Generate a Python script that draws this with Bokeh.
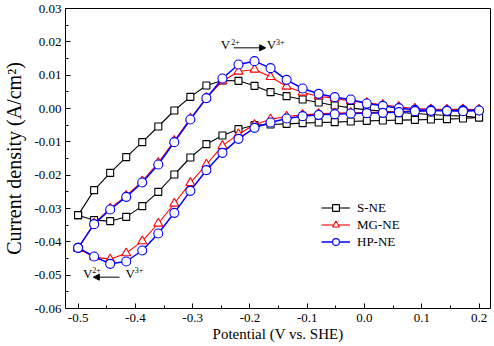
from bokeh.plotting import figure
from bokeh.models import (Range1d, FixedTicker, Label, Arrow, NormalHead,
                          Legend, LegendItem, ColumnDataSource)
from bokeh.embed import file_html
from bokeh.resources import INLINE

# Potential grid (V vs. SHE), shared by the forward and reverse sweeps
potential = [-0.500, -0.472, -0.444, -0.416, -0.388, -0.360, -0.332, -0.304,
             -0.276, -0.248, -0.220, -0.192, -0.164, -0.136, -0.108, -0.080,
             -0.052, -0.024, 0.004, 0.032, 0.060, 0.088, 0.116, 0.144,
             0.172, 0.200]

# Current density (A/cm2), anodic sweep (negative -> positive potential)
s_ne_anodic = [-0.0320, -0.0245, -0.0193, -0.0146, -0.0101, -0.0054, -0.0006,
               0.0035, 0.0069, 0.0084, 0.0083, 0.0068, 0.0049, 0.0037, 0.0027,
               0.0018, 0.0009, 0.0002, -0.0004, -0.0008, -0.0012, -0.0015,
               -0.0018, -0.0021, -0.0023, -0.0027]
mg_ne_anodic = [-0.0420, -0.0345, -0.0300, -0.0262, -0.0218, -0.0163, -0.0097,
                -0.0030, 0.0032, 0.0082, 0.0111, 0.0117, 0.0095, 0.0066,
                0.0048, 0.0037, 0.0030, 0.0023, 0.0017, 0.0011, 0.0005,
                0.0000, -0.0002, -0.0003, -0.0002, -0.0004]
hp_ne_anodic = [-0.0418, -0.0347, -0.0303, -0.0265, -0.0222, -0.0168, -0.0101,
                -0.0033, 0.0031, 0.0090, 0.0132, 0.0142, 0.0121, 0.0086,
                0.0060, 0.0044, 0.0034, 0.0027, 0.0015, 0.0008, 0.0001,
                -0.0004, -0.0005, -0.0006, -0.0005, -0.0006]

# Cathodic sweep, listed on the same ascending potential grid
s_ne_cathodic = [-0.0320, -0.0335, -0.0338, -0.0325, -0.0293, -0.0250, -0.0198,
                 -0.0147, -0.0107, -0.0081, -0.0062, -0.0050, -0.0048, -0.0046,
                 -0.0044, -0.0042, -0.0041, -0.0039, -0.0037, -0.0036, -0.0035,
                 -0.0034, -0.0033, -0.0032, -0.0030, -0.0027]
mg_ne_cathodic = [-0.0420, -0.0446, -0.0452, -0.0434, -0.0398, -0.0345, -0.0285,
                  -0.0223, -0.0168, -0.0112, -0.0077, -0.0049, -0.0032, -0.0024,
                  -0.0019, -0.0016, -0.0014, -0.0013, -0.0012, -0.0011, -0.0009,
                  -0.0007, -0.0006, -0.0006, -0.0006, -0.0004]
hp_ne_cathodic = [-0.0418, -0.0444, -0.0466, -0.0459, -0.0426, -0.0375, -0.0313,
                  -0.0247, -0.0185, -0.0133, -0.0091, -0.0058, -0.0042, -0.0030,
                  -0.0023, -0.0019, -0.0017, -0.0015, -0.0014, -0.0013, -0.0011,
                  -0.0008, -0.0007, -0.0007, -0.0008, -0.0006]

series_names = ["S-NE", "MG-NE", "HP-NE"]

x_ticks = [-0.5, -0.4, -0.3, -0.2, -0.1, 0.0, 0.1, 0.2]
x_tick_labels = ["-0.5", "-0.4", "-0.3", "-0.2", "-0.1", "0.0", "0.1", "0.2"]
x_minor = [-0.45, -0.35, -0.25, -0.15, -0.05, 0.05, 0.15]
y_ticks = [-0.06, -0.05, -0.04, -0.03, -0.02, -0.01, 0.0, 0.01, 0.02, 0.03]
y_tick_labels = ["-0.06", "-0.05", "-0.04", "-0.03", "-0.02", "-0.01",
                 "0.00", "0.01", "0.02", "0.03"]
y_minor = [-0.055, -0.045, -0.035, -0.025, -0.015, -0.005, 0.005, 0.015, 0.025]

SERIF = "Liberation Serif"

p = figure(width=494, height=346, output_backend="svg", toolbar_location=None,
           x_range=Range1d(-0.522, 0.22), y_range=Range1d(-0.06, 0.03),
           min_border_left=64, min_border_right=4, min_border_top=8,
           min_border_bottom=38)
p.grid.visible = False
p.outline_line_color = "black"
p.outline_line_width = 1
p.outline_line_alpha = 1
p.background_fill_color = "white"
p.border_fill_color = "white"

for ax, ticks, minor, labels in ((p.xaxis[0], x_ticks, x_minor, x_tick_labels),
                                 (p.yaxis[0], y_ticks, y_minor, y_tick_labels)):
    ax.ticker = FixedTicker(ticks=ticks, minor_ticks=minor)
    ax.major_label_overrides = {t: s for t, s in zip(ticks, labels)}
    ax.major_tick_in = 5
    ax.major_tick_out = 0
    ax.minor_tick_in = 3
    ax.minor_tick_out = 0
    ax.axis_line_color = "black"
    ax.major_tick_line_color = "black"
    ax.minor_tick_line_color = "black"
    ax.major_label_text_font = SERIF
    ax.major_label_text_font_size = "13px"
    ax.major_label_text_color = "black"
    ax.axis_label_text_font = SERIF
    ax.axis_label_text_font_style = "normal"
    ax.axis_label_text_color = "black"
p.xaxis.major_label_standoff = 5
p.yaxis.major_label_standoff = 4

p.xaxis.axis_label = "Potential (V vs. SHE)"
p.xaxis.axis_label_text_font_size = "15px"
p.xaxis.axis_label_standoff = 1
p.yaxis.axis_label = "Current density (A/cm²)"
p.yaxis.axis_label_text_font_size = "20px"
p.yaxis.axis_label_standoff = 6

styles = [
    dict(color="black", marker="square", size=7, width=1.1),
    dict(color="#ff0000", marker="triangle", size=9, width=1.1),
    dict(color="#0000ff", marker="circle", size=9, width=1.5),
]
anodic = [s_ne_anodic, mg_ne_anodic, hp_ne_anodic]
cathodic = [s_ne_cathodic, mg_ne_cathodic, hp_ne_cathodic]

items = []
for name, a, c, st in zip(series_names, anodic, cathodic, styles):
    # closed loop: forward sweep, then the reverse sweep back to the start
    xs = list(potential) + list(reversed(potential))
    ys = list(a) + list(reversed(c))
    src = ColumnDataSource(dict(x=xs, y=ys))
    ln = p.line("x", "y", source=src, line_color=st["color"], line_width=st["width"])
    sc = p.scatter("x", "y", source=src, marker=st["marker"], size=st["size"],
                   line_color=st["color"], fill_color="white", line_width=1.1)
    items.append(LegendItem(label=name, renderers=[ln, sc]))

legend = Legend(items=items, location=(256, 58), padding=0, margin=0, spacing=0,
                glyph_width=29, glyph_height=17, label_height=17,
                label_standoff=7, label_text_font=SERIF,
                label_text_font_size="13px", label_text_color="black",
                border_line_color=None, background_fill_alpha=0)
p.add_layout(legend)


def redox(x_v1, x_sup1, x_v2, x_sup2, y_base, y_sup, arrow_from, arrow_to, y_arrow, s1, s2):
    """Draw a 'V(n+) -> V(m+)' annotation with an arrow between the ions."""
    for x, txt, size, y in ((x_v1, "V", "13px", y_base), (x_sup1, s1, "8px", y_sup),
                            (x_v2, "V", "13px", y_base), (x_sup2, s2, "8px", y_sup)):
        p.add_layout(Label(x=x, y=y, text=txt, text_font=SERIF,
                           text_font_size=size, text_color="black"))
    p.add_layout(Arrow(end=NormalHead(size=6, fill_color="black", line_color="black"),
                       x_start=arrow_from, y_start=y_arrow, x_end=arrow_to, y_end=y_arrow,
                       line_color="black", line_width=1))


# oxidation peak label (top) and reduction label (bottom left)
redox(-0.2508, -0.2325, -0.1708, -0.1543, 0.0171, 0.0192, -0.2282, -0.1725, 0.0182, "2+", "3+")
redox(-0.4913, -0.4751, -0.4172, -0.4012, -0.0516, -0.0492, -0.4277, -0.4734, -0.0506, "2+", "3+")

open("out.html", "w").write(file_html(p, INLINE))
